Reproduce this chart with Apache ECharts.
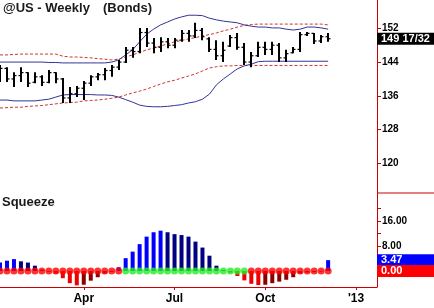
<!DOCTYPE html>
<html><head><meta charset="utf-8">
<script src="https://cdn.jsdelivr.net/npm/echarts@6/dist/echarts.min.js"></script>
<style>html,body{margin:0;padding:0;background:#fff}#c{width:434px;height:308px}</style>
</head><body><div id="c"></div>
<script>
// ---- data ----
const startDate = '2012-01-08';
const weekCount = 55;
const quarterIdx = [12, 25, 38, 51];
const quarterLabels = ['Apr', 'Jul', 'Oct', "'13"];
const priceTicks = [120, 128, 136, 144, 152];
const sqzLabelTicks = [8, 16];
const sqzTicks = [8, 12, 16, 20];

const open  = [141.5,142.5,140.0,140.8,141.5,139.2,140.5,139.2,141.5,140.0,135.5,136.5,137.8,139.0,140.5,141.0,142.0,142.8,144.0,146.8,146.5,151.0,148.5,147.5,148.8,148.0,149.2,150.8,150.2,151.5,149.5,147.0,145.5,147.8,149.8,147.5,144.0,145.5,147.5,147.0,148.0,145.0,146.2,147.0,150.5,150.8,149.0,150.0];
const high  = [143.3,142.8,141.6,142.8,141.6,141.6,140.9,142.1,141.6,140.2,138.1,138.3,139.5,140.9,141.4,142.6,143.3,144.5,147.6,147.6,152.1,152.1,149.7,149.9,149.7,149.7,151.6,151.6,153.3,152.1,149.9,149.2,148.8,150.4,150.9,148.5,146.4,148.8,148.8,148.8,148.5,146.9,147.6,151.1,151.1,150.9,150.4,150.9];
const low   = [139.3,139.3,138.1,139.3,138.1,139.0,138.3,139.0,139.0,134.3,134.3,135.7,135.0,138.3,139.7,139.7,140.5,142.1,143.8,145.0,146.1,147.6,146.1,146.4,147.3,147.3,148.8,148.8,149.7,149.2,146.4,144.5,144.0,147.6,146.9,143.3,142.8,145.2,145.7,145.7,144.0,144.0,146.1,146.4,150.2,148.3,148.5,148.8];
const close = [142.5,140.0,140.8,141.5,139.0,140.5,139.2,141.5,140.0,135.5,136.5,137.8,139.0,140.5,141.0,142.0,142.8,144.0,146.8,146.5,151.0,148.5,147.5,148.8,148.0,149.2,150.8,150.2,151.5,150.0,147.0,145.5,146.8,149.8,147.5,144.0,145.5,147.5,147.0,148.0,145.0,146.0,147.0,150.5,150.8,149.0,150.0,149.53125];

const bbUpper = [144.0,144.0,144.0,144.0,144.0,144.0,144.0,143.9,143.9,143.8,143.8,143.8,143.8,143.8,143.8,143.8,144.0,144.5,145.7,146.9,148.8,150.6,151.8,152.8,153.5,154.2,154.7,155.1,155.1,155.0,154.4,154.0,153.7,153.5,153.3,152.8,152.5,152.3,152.3,152.1,152.1,151.8,151.6,151.8,152.3,152.3,152.1,151.8];
const bbLower = [135.0,135.0,134.8,134.8,134.8,134.8,135.0,135.2,135.7,136.2,136.3,136.3,136.3,136.3,136.2,136.2,136.1,135.7,135.1,134.5,133.8,133.5,133.4,133.4,133.5,133.7,133.9,134.3,134.6,135.2,136.4,138.6,140.0,141.2,142.4,143.1,143.5,144.1,144.2,144.2,144.2,144.2,144.2,144.2,144.2,144.2,144.2,144.2];
const kcUpper = [145.7,145.7,145.8,145.9,145.9,145.9,145.9,145.9,145.9,145.4,145.2,145.2,145.1,145.0,144.8,144.7,144.5,144.7,145.2,145.7,146.3,146.9,147.3,147.8,148.3,148.8,149.1,149.5,149.8,150.2,150.5,150.9,151.4,151.8,152.3,152.7,152.9,153.0,153.0,153.0,153.0,153.0,153.0,153.0,153.0,153.0,153.0,152.8];
const kcLower = [133.1,133.2,133.3,133.3,133.5,133.6,133.7,133.9,134.1,134.3,134.4,134.5,134.8,134.9,135.0,135.2,135.4,135.7,136.2,136.7,137.1,137.6,138.2,138.8,139.3,139.7,140.2,140.7,141.2,141.9,142.6,142.9,143.1,143.1,143.2,143.2,143.2,143.2,143.2,143.2,143.2,143.2,143.2,143.2,143.2,143.2,143.2,143.2];

const momentum = [2.7,3.3,3.8,3.1,2.7,1.7,0.4,-0.3,-0.8,-2.3,-3.9,-4.6,-4.4,-3.1,-2.0,-0.8,-0.3,1.2,4.1,6.2,8.6,11.0,12.4,12.9,12.4,11.8,11.5,11.0,9.4,7.5,4.9,1.7,0.3,-0.5,-1.6,-3.0,-4.1,-4.5,-4.4,-3.9,-3.4,-2.8,-2.0,-0.8,-0.5,-0.4,-0.2,3.47];
const squeezeOn = [1,1,1,1,1,1,1,1,1,1,1,1,1,1,1,1,1,1,0,0,0,0,0,0,0,0,0,0,0,0,0,0,0,0,0,0,1,1,1,1,1,1,1,1,1,1,1,1];

// ---- build ----
const categories = [];
{
  const d0 = new Date(startDate + 'T00:00:00Z');
  for (let i = 0; i < weekCount; i++) {
    const d = new Date(d0.getTime() + i * 7 * 86400000);
    categories.push(d.toISOString().slice(0, 10));
  }
}
const ohlcData = open.map((o, i) => [i, o, high[i], low[i], close[i]]);
const momData = momentum.map((v, i) => {
  const prev = i > 0 ? momentum[i - 1] : -Infinity;
  let col;
  if (v >= 0) col = v >= prev ? '#0000ff' : '#000080';
  else col = v < prev ? '#ee0000' : '#8b0000';
  return { value: v, itemStyle: { color: col } };
});
const dotData = squeezeOn.map((s, i) => ({ value: [i, 0], itemStyle: { color: s ? '#ff0000' : '#22ee22' } }));

const GW = 377, G0H = 193, G1T = 193, G1H = 94;
const labelFont = { fontFamily: 'Liberation Sans, Arial', fontWeight: 'bold', fontSize: 10, color: '#000' };

function renderOHLC(params, api) {
  const i = api.value(0);
  const o = api.coord([i, api.value(1)]);
  const h = api.coord([i, api.value(2)]);
  const l = api.coord([i, api.value(3)]);
  const c = api.coord([i, api.value(4)]);
  const x = Math.round(h[0]);
  return {
    type: 'group', children: [
      { type: 'line', shape: { x1: x, y1: h[1], x2: x, y2: l[1] }, style: { stroke: '#000', lineWidth: 2 } },
      { type: 'line', shape: { x1: x - 2.5, y1: o[1], x2: x, y2: o[1] }, style: { stroke: '#000', lineWidth: 1.2 } },
      { type: 'line', shape: { x1: x, y1: c[1], x2: x + 2.5, y2: c[1] }, style: { stroke: '#000', lineWidth: 1.2 } }
    ]
  };
}

const chart = echarts.init(document.getElementById('c'), null, { renderer: 'canvas' });
chart.setOption({
  animation: false,
  backgroundColor: '#fff',
  grid: [
    { left: 0, top: 0, width: GW, height: G0H },
    { left: 0, top: G1T, width: GW, height: G1H }
  ],
  xAxis: [
    { type: 'category', gridIndex: 0, data: categories, boundaryGap: false, show: false },
    {
      type: 'category', gridIndex: 1, data: categories, boundaryGap: false, position: 'bottom',
      axisLine: { show: true, onZero: false, lineStyle: { color: '#cc0000', width: 1 } },
      axisTick: { show: true, length: 3, lineStyle: { color: '#cc0000' }, interval: (idx) => quarterIdx.includes(idx) },
      axisLabel: {
        show: true, margin: 6, ...labelFont, fontSize: 12,
        interval: (idx) => quarterIdx.includes(idx),
        formatter: (v, idx) => { const k = quarterIdx.indexOf(idx); return k >= 0 ? quarterLabels[k] : ''; }
      },
      splitLine: { show: false }
    }
  ],
  yAxis: [
    {
      type: 'value', gridIndex: 0, position: 'right', min: 112.97, max: 158.71, scale: true,
      axisLine: { show: true, onZero: false, lineStyle: { color: '#cc0000', width: 1 } },
      axisTick: { show: true, length: 4, lineStyle: { color: '#cc0000' }, customValues: priceTicks },
      axisLabel: { show: true, margin: 5, ...labelFont, customValues: priceTicks },
      splitLine: { show: false }
    },
    {
      type: 'value', gridIndex: 1, position: 'right', min: -5.12, max: 24.96,
      axisLine: { show: true, onZero: false, lineStyle: { color: '#cc0000', width: 1 } },
      axisTick: { show: true, length: 4, lineStyle: { color: '#cc0000' }, customValues: sqzTicks },
      axisLabel: { show: true, margin: 5, ...labelFont, customValues: sqzLabelTicks, formatter: (v) => v.toFixed(2) },
      splitLine: { show: false }
    }
  ],
  series: [
    { type: 'line', xAxisIndex: 0, yAxisIndex: 0, data: kcUpper, symbol: 'none', lineStyle: { color: '#cc3333', width: 1, type: [3, 2] }, z: 2 },
    { type: 'line', xAxisIndex: 0, yAxisIndex: 0, data: kcLower, symbol: 'none', lineStyle: { color: '#cc3333', width: 1, type: [3, 2] }, z: 2 },
    { type: 'line', xAxisIndex: 0, yAxisIndex: 0, data: bbUpper, symbol: 'none', lineStyle: { color: '#333399', width: 1 }, z: 2 },
    { type: 'line', xAxisIndex: 0, yAxisIndex: 0, data: bbLower, symbol: 'none', lineStyle: { color: '#333399', width: 1 }, z: 2 },
    { type: 'custom', xAxisIndex: 0, yAxisIndex: 0, data: ohlcData, renderItem: renderOHLC, encode: { x: 0, y: [1, 2, 3, 4] }, z: 3 },
    { type: 'bar', xAxisIndex: 1, yAxisIndex: 1, data: momData, barWidth: 4, z: 2 },
    { type: 'scatter', xAxisIndex: 1, yAxisIndex: 1, data: dotData, symbol: 'circle', symbolSize: 7, z: 3 }
  ]
});

// right-side value boxes, positioned from the data through the axes
const lastClose = close[close.length - 1];
const lastMom = momentum[momentum.length - 1];
const fmt32 = (v) => Math.floor(v) + ' ' + Math.round((v - Math.floor(v)) * 32) + '/32';
const yP = chart.convertToPixel({ yAxisIndex: 0 }, lastClose);
const yM = chart.convertToPixel({ yAxisIndex: 1 }, lastMom);
const yZ = chart.convertToPixel({ yAxisIndex: 1 }, 0);
function box(y, txt, fill) {
  return [
    { type: 'rect', shape: { x: GW, y: y - 6, width: 434 - GW, height: 12 }, style: { fill: fill }, z: 10 },
    { type: 'text', x: GW + 4, y: y, style: { text: txt, fill: '#fff', font: 'bold 11px "Liberation Sans", Arial', verticalAlign: 'middle' }, z: 11 }
  ];
}
function title(x, y, txt, size) {
  return { type: 'text', x: x, y: y, style: { text: txt, fill: '#1a1a1a', font: 'bold ' + size + 'px "Liberation Sans", Arial', verticalAlign: 'top' }, z: 12 };
}
chart.setOption({
  graphic: [
    { type: 'line', shape: { x1: GW, y1: G0H, x2: 434, y2: G0H }, style: { stroke: '#cc0000', lineWidth: 1 }, z: 10 },
    ...box(yP, fmt32(lastClose), '#000'),
    ...box(yM, lastMom.toFixed(2), '#0000ff'),
    ...box(yZ, (0).toFixed(2), '#ff0000'),
    title(3, 2, '@US - Weekly', 13),
    title(103, 2, '(Bonds)', 13),
    title(2, 196, 'Squeeze', 13)
  ]
});
</script></body></html>
